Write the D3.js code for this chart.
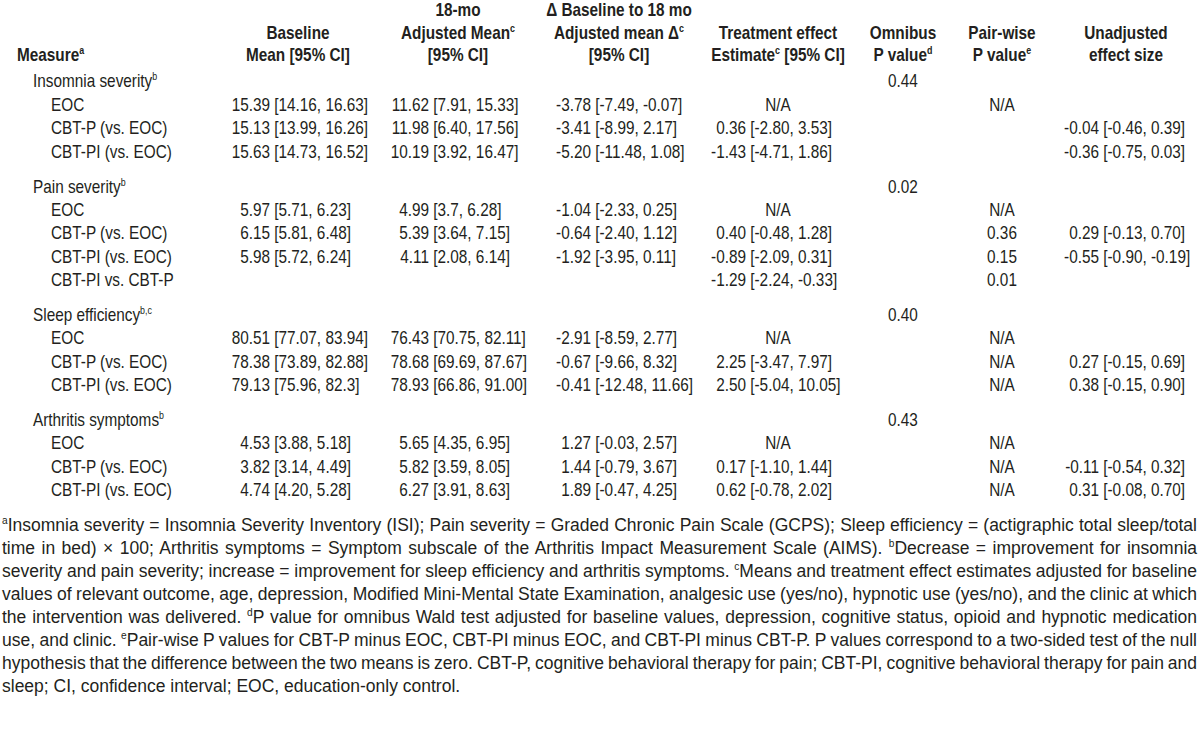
<!DOCTYPE html>
<html><head><meta charset="utf-8">
<script src="https://cdn.jsdelivr.net/npm/d3@7"></script>
<style>html,body{margin:0;padding:0;background:#fff;} svg{display:block}</style>
</head><body><svg id="chart" width="1200" height="743"></svg>
<script>
// ---------------- DATA ----------------
const columnKeys = ["measure","baseline","adjMean","delta","effect","omnibus","pairwise","unadjusted"];
const headerLine1 = ["", "", "18-mo", "Δ Baseline to 18 mo", "", "", "", ""];
const headerLine2 = ["", "Baseline", "Adjusted Mean^{c}", "Adjusted mean Δ^{c}", "Treatment effect", "Omnibus", "Pair-wise", "Unadjusted"];
const headerLine3 = ["Measure^{a}", "Mean [95% CI]", "[95% CI]", "[95% CI]", "Estimate^{c} [95% CI]", "P value^{d}", "P value^{e}", "effect size"];

const measures   = ["Insomnia severity", "Pain severity", "Sleep efficiency", "Arthritis symptoms"];
const measureSup = ["b", "b", "b,c", "b"];
const omnibusP   = ["0.44", "0.02", "0.40", "0.43"];

const rowMeasure = [0,0,0, 1,1,1,1, 2,2,2, 3,3,3];
const rowLabels  = ["EOC","CBT-P (vs. EOC)","CBT-PI (vs. EOC)",
                    "EOC","CBT-P (vs. EOC)","CBT-PI (vs. EOC)","CBT-PI vs. CBT-P",
                    "EOC","CBT-P (vs. EOC)","CBT-PI (vs. EOC)",
                    "EOC","CBT-P (vs. EOC)","CBT-PI (vs. EOC)"];
const baselineMean = ["15.39 [14.16, 16.63]","15.13 [13.99, 16.26]","15.63 [14.73, 16.52]",
                      "5.97 [5.71, 6.23]","6.15 [5.81, 6.48]","5.98 [5.72, 6.24]","",
                      "80.51 [77.07, 83.94]","78.38 [73.89, 82.88]","79.13 [75.96, 82.3]",
                      "4.53 [3.88, 5.18]","3.82 [3.14, 4.49]","4.74 [4.20, 5.28]"];
const adjustedMean = ["11.62 [7.91, 15.33]","11.98 [6.40, 17.56]","10.19 [3.92, 16.47]",
                      "4.99 [3.7, 6.28]","5.39 [3.64, 7.15]","4.11 [2.08, 6.14]","",
                      "76.43 [70.75, 82.11]","78.68 [69.69, 87.67]","78.93 [66.86, 91.00]",
                      "5.65 [4.35, 6.95]","5.82 [3.59, 8.05]","6.27 [3.91, 8.63]"];
const deltaMean    = ["-3.78 [-7.49, -0.07]","-3.41 [-8.99, 2.17]","-5.20 [-11.48, 1.08]",
                      "-1.04 [-2.33, 0.25]","-0.64 [-2.40, 1.12]","-1.92 [-3.95, 0.11]","",
                      "-2.91 [-8.59, 2.77]","-0.67 [-9.66, 8.32]","-0.41 [-12.48, 11.66]",
                      "1.27 [-0.03, 2.57]","1.44 [-0.79, 3.67]","1.89 [-0.47, 4.25]"];
const treatmentEffect = ["N/A","0.36 [-2.80, 3.53]","-1.43 [-4.71, 1.86]",
                      "N/A","0.40 [-0.48, 1.28]","-0.89 [-2.09, 0.31]","-1.29 [-2.24, -0.33]",
                      "N/A","2.25 [-3.47, 7.97]","2.50 [-5.04, 10.05]",
                      "N/A","0.17 [-1.10, 1.44]","0.62 [-0.78, 2.02]"];
const pairwiseP    = ["N/A","","", "N/A","0.36","0.15","0.01", "N/A","N/A","N/A", "N/A","N/A","N/A"];
const unadjustedES = ["","-0.04 [-0.46, 0.39]","-0.36 [-0.75, 0.03]",
                      "","0.29 [-0.13, 0.70]","-0.55 [-0.90, -0.19]","",
                      "","0.27 [-0.15, 0.69]","0.38 [-0.15, 0.90]",
                      "","-0.11 [-0.54, 0.32]","0.31 [-0.08, 0.70]"];

const footnoteLines = [
  "^{a}Insomnia severity = Insomnia Severity Inventory (ISI); Pain severity = Graded Chronic Pain Scale (GCPS); Sleep efficiency = (actigraphic total sleep/total",
  "time in bed) × 100; Arthritis symptoms = Symptom subscale of the Arthritis Impact Measurement Scale (AIMS). ^{b}Decrease = improvement for insomnia",
  "severity and pain severity; increase = improvement for sleep efficiency and arthritis symptoms. ^{c}Means and treatment effect estimates adjusted for baseline",
  "values of relevant outcome, age, depression, Modified Mini-Mental State Examination, analgesic use (yes/no), hypnotic use (yes/no), and the clinic at which",
  "the intervention was delivered. ^{d}P value for omnibus Wald test adjusted for baseline values, depression, cognitive status, opioid and hypnotic medication",
  "use, and clinic. ^{e}Pair-wise P values for CBT-P minus EOC, CBT-PI minus EOC, and CBT-PI minus CBT-P. P values correspond to a two-sided test of the null",
  "hypothesis that the difference between the two means is zero. CBT-P, cognitive behavioral therapy for pain; CBT-PI, cognitive behavioral therapy for pain and",
  "sleep; CI, confidence interval; EOC, education-only control."
];

// ---------------- LAYOUT ----------------
const W = 1200, H = 743;
function fontAvailable(name){
  const c = document.createElement('canvas').getContext('2d');
  const s = 'abcdefghijklmWMW0123456789';
  c.font = '40px monospace'; const a = c.measureText(s).width;
  c.font = '40px "' + name + '", monospace'; const b = c.measureText(s).width;
  return Math.abs(a-b) > 0.5;
}
const narrow = fontAvailable("Liberation Sans Narrow");
const FAMILY = narrow ? '"Liberation Sans Narrow", "Liberation Sans", Arial, sans-serif' : '"Liberation Sans", Arial, sans-serif';
const SX = narrow ? 1 : 0.82;
const FS = 18.7;
const X = x => x / SX;
const INK = '#231f20';

const svg = d3.select('#chart');
svg.append('rect').attr('width', W).attr('height', H).attr('fill', '#fff');
const root = svg.append('g')
  .attr('transform', `scale(${SX},1)`)
  .attr('font-family', FAMILY).attr('font-size', FS).attr('fill', INK);

// header centre of each column
const colCenter = d3.scaleOrdinal().domain(columnKeys).range([17, 298, 458, 619, 778, 903, 1002, 1126]);
// right edge of the point estimate in value columns
const estRight = d3.scaleOrdinal().domain(["baseline","adjMean","delta","effect","unadjusted"]).range([270, 429, 591, 746, 1099]);
const headerY = d3.scalePoint().domain([1,2,3]).range([16.5, 61.5]);

// row slots (group rows + item rows)
const slots = [];
let s = 0;
measures.forEach((m, mi) => {
  if (mi > 0) s += 0.5;
  slots.push({type: 'measure', mi, slot: s}); s += 1;
  rowMeasure.forEach((rm, ri) => { if (rm === mi) { slots.push({type: 'row', ri, slot: s}); s += 1; } });
});
const yScale = d3.scaleLinear().domain([0, 1]).range([81 + 6.5, 81 + 6.5 + 23.35]);

function richText(parent, str, x, y, anchor, fs, sx) {
  fs = fs || FS; sx = sx || SX;
  const t = parent.append('text').attr('x', x / sx).attr('y', y).attr('text-anchor', anchor);
  const parts = str.split(/\^\{([^}]*)\}/);
  let raised = false;
  parts.forEach((p, i) => {
    if (!p) return;
    const ts = t.append('tspan').text(p);
    if (i % 2 === 1) {
      ts.attr('font-size', fs * 0.58);
      if (!raised) ts.attr('dy', -7);
      raised = true;
    } else if (raised) { ts.attr('dy', 7); raised = false; }
  });
  return t;
}

// ---------------- HEADER ----------------
const head = root.append('g').attr('font-weight', 'bold');
[headerLine1, headerLine2, headerLine3].forEach((line, li) => {
  line.forEach((txt, ci) => {
    if (!txt) return;
    const key = columnKeys[ci];
    richText(head, txt, colCenter(key), headerY(li + 1), key === 'measure' ? 'start' : 'middle');
  });
});

// ---------------- BODY ----------------
const body = root.append('g');
const valueCols = [["baseline", baselineMean], ["adjMean", adjustedMean], ["delta", deltaMean], ["effect", treatmentEffect], ["unadjusted", unadjustedES]];
const spaceW = narrow ? FS * 0.228 : FS * 0.278 * 0.82;

slots.forEach(d => {
  const y = yScale(d.slot);
  if (d.type === 'measure') {
    richText(body, measures[d.mi] + '^{' + measureSup[d.mi] + '}', 33, y, 'start');
    body.append('text').attr('x', X(colCenter('omnibus'))).attr('y', y).attr('text-anchor', 'middle').text(omnibusP[d.mi]);
    return;
  }
  const ri = d.ri;
  body.append('text').attr('x', X(51)).attr('y', y).text(rowLabels[ri]);
  valueCols.forEach(([key, arr]) => {
    const v = arr[ri];
    if (!v) return;
    const k = v.indexOf(' ');
    if (k < 0) {
      body.append('text').attr('x', X(colCenter(key))).attr('y', y).attr('text-anchor', 'middle').text(v);
    } else {
      body.append('text').attr('x', X(estRight(key))).attr('y', y).attr('text-anchor', 'end').text(v.slice(0, k));
      body.append('text').attr('x', X(estRight(key) + spaceW)).attr('y', y).attr('text-anchor', 'start').text(v.slice(k + 1));
    }
  });
  if (pairwiseP[ri]) {
    body.append('text').attr('x', X(colCenter('pairwise'))).attr('y', y).attr('text-anchor', 'middle').text(pairwiseP[ri]);
  }
});

// ---------------- FOOTNOTES ----------------
const FFS = 17.5;
const foot = svg.append('g').attr('font-family', '"Liberation Sans", Arial, sans-serif')
  .attr('font-size', FFS).attr('fill', INK);
const footY = d3.scaleLinear().domain([0, 1]).range([525 + 6.3, 525 + 6.3 + 23]);
const footLeft = 2, footRight = 1197;
footnoteLines.forEach((line, i) => {
  const t = richText(foot, line, footLeft, footY(i), 'start', FFS, 1);
  if (i < footnoteLines.length - 1) {
    const natural = t.node().getComputedTextLength();
    const spaces = (line.match(/ /g) || []).length;
    const target = (footRight - footLeft);
    if (spaces > 0) t.attr('word-spacing', (target - natural) / spaces);
  }
});
</script>
</body></html>
